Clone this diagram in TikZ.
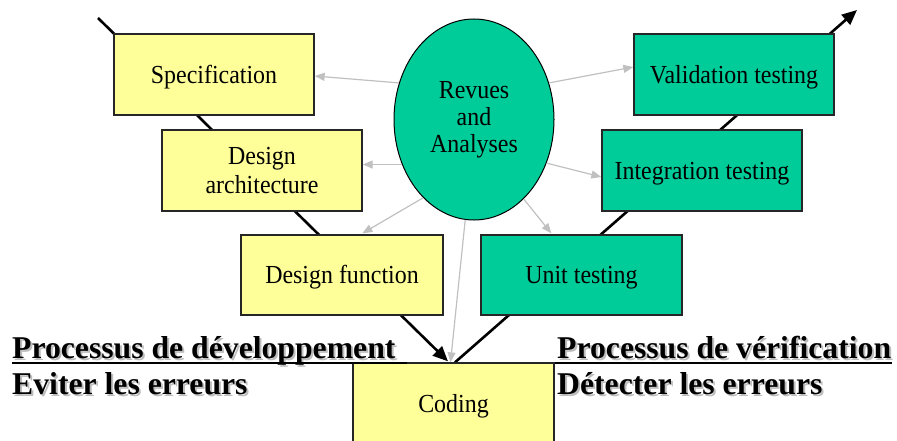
\documentclass[tikz,border=0pt]{standalone}
\usepackage{fontspec}
\setmainfont{Liberation Serif}
\newfontfamily\boxfont[FakeStretch=0.92]{Liberation Serif}
\usetikzlibrary{arrows.meta,shapes.geometric,calc,backgrounds}

\definecolor{paleyellow}{HTML}{FFFF99}
\definecolor{seagreen}{HTML}{00CC99}
\definecolor{arrowgray}{HTML}{C0C0C0}
\definecolor{shadowgray}{HTML}{BDBDBD}

% bold heading text with a light drop shadow
\newcommand\withshade[1]{\rlap{\kern2pt\raisebox{-2pt}{\textcolor{shadowgray}{#1}}}#1}

\tikzset{
  phase/.style={draw=black!85, line width=1.3pt, minimum width=200pt,
    minimum height=81pt, inner sep=0pt, align=center,
    font=\boxfont\fontsize{26}{28.3}\selectfont},
  oneline/.style={text height=22pt, text depth=4.4pt},
  devbox/.style={phase, fill=paleyellow},
  testbox/.style={phase, fill=seagreen},
  vline/.style={line width=2.6pt, -{Triangle[length=15pt,width=13pt]}},
  review/.style={draw=arrowgray, line width=1.2pt,
    -{Triangle[length=10pt,width=8pt]}},
  heading/.style={anchor=base west, inner sep=0pt,
    font=\fontsize{31.7}{36}\selectfont\bfseries},
}

\begin{document}
\begin{tikzpicture}[x=1pt,y=-1pt]
\useasboundingbox (0,0) rectangle (897,441);

% development side (left branch of the V)
\node[devbox, oneline] (spec) at (214,74.5) {Specification};
\node[devbox] (arch) at (262,170.5) {Design\\architecture};
\node[devbox, oneline, minimum width=202pt, minimum height=80pt] (func) at (342,275) {Design function};
\node[devbox, oneline, minimum width=201pt] (coding) at (453.5,403.5) {Coding};

% verification side (right branch of the V)
\node[testbox, oneline, minimum width=201pt, minimum height=80pt] (unit) at (581.5,275) {Unit testing};
\node[testbox, oneline] (integ) at (702,170.5) {Integration testing};
\node[testbox, oneline] (valid) at (734,74.5)  {Validation testing};

% reviews and analyses
\node[ellipse, draw=black, line width=1pt, fill=seagreen, minimum width=160pt,
      minimum height=201pt, inner sep=0pt, align=center,
      font=\boxfont\fontsize{26}{27}\selectfont] (rev) at (474,119.5)
      {Revues\\and\\Analyses};

% the V itself, behind the boxes
\coordinate (vtop) at (98,18);
\coordinate (vtip) at (857,10);
\begin{scope}[on background layer]
  \draw[vline] (vtop) -- ($(coding.north)+(-5.5,-1)$);
  \draw[vline] ($(coding.north)+(1.5,0)$) -- (vtip);
\end{scope}

% review arrows towards every phase
\draw[review] (rev.154) -- ($(spec.east)+(0,1.5)$);
\draw[review] (rev.212) -- (rev.212 -| arch.east);
\draw[review] (rev.237) -- ($(func.north west)+(122,-1)$);
\draw[review] (rev.265) -- ($(coding.north)+(-3,0)$);
\draw[review] (rev.302) -- ($(unit.north west)+(71,-1)$);
\draw[review] (rev.329) -- ($(integ.west)+(0,6.5)$);
\draw[review] (rev.26)  -- ($(valid.west)+(0,-7.5)$);

% headings
\node[heading] (devtitle) at (12,358.3) {\withshade{Processus de développement}};
\node[heading] (devsub)   at (12,394.3) {\withshade{Eviter les erreurs}};
\draw[line width=2pt] ($(devtitle.base west)+(0,5)$) -- ++(395,0);

\node[heading] (vertitle) at (557,358.3) {\withshade{Processus de vérification}};
\node[heading] (versub)   at (557,394)   {\withshade{Détecter les erreurs}};
\draw[line width=2pt] ($(vertitle.base west)+(-2,5)$) -- ++(337,0);
\end{tikzpicture}
\end{document}
